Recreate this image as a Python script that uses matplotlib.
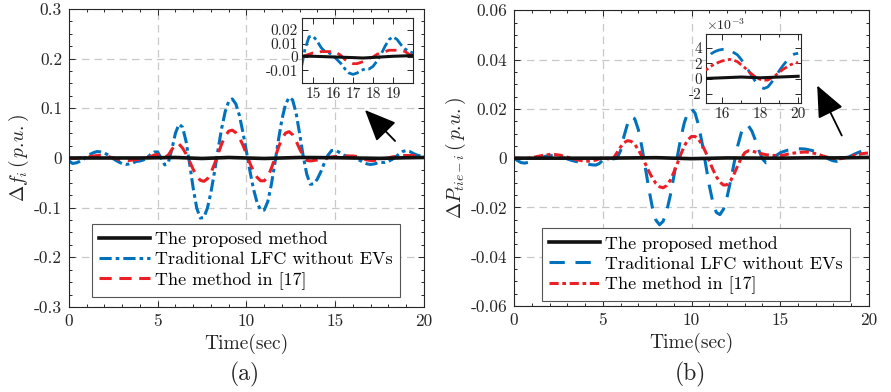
import numpy as np
import matplotlib
matplotlib.use("Agg")
import matplotlib.pyplot as plt
from matplotlib.ticker import MultipleLocator, FuncFormatter

plt.rcParams['font.family'] = ['cmr10', 'DejaVu Serif']
plt.rcParams['mathtext.fontset'] = 'cm'
plt.rcParams['axes.unicode_minus'] = False

# time axis of the sampled curves (sec)
t = np.round(np.arange(0, 20.01, 0.2), 1)

# (a) frequency deviation
df_trad = [
    -0.006, -0.011, -0.010, -0.007, -0.003, 0.0025, 0.0075, 0.011, 0.013, 0.012,
    0.010, 0.006, 0.001, -0.004, -0.008, -0.0115, -0.013, -0.012, -0.010, -0.007,
    -0.006, -0.004, 0.001, 0.007, 0.012, 0.012, -0.001, -0.014, -0.009, 0.018,
    0.050, 0.068, 0.062, 0.033, -0.012, -0.061, -0.101, -0.121, -0.120, -0.101,
    -0.069, -0.028, 0.017, 0.059, 0.093, 0.114, 0.119, 0.109, 0.086, 0.052,
    0.013, -0.027, -0.063, -0.090, -0.105, -0.105, -0.088, -0.054, -0.011, 0.036,
    0.078, 0.108, 0.122, 0.117, 0.090, 0.048, 0.003, -0.033, -0.053, -0.052,
    -0.042, -0.027, -0.009, 0.006, 0.015, 0.0155, 0.012, 0.007, 0.004, 0.003,
    0.001, -0.002, -0.005, -0.009, -0.012, -0.013, -0.012, -0.010, -0.009, -0.009,
    -0.007, -0.003, 0.002, 0.008, 0.013, 0.015, 0.013, 0.009, 0.006, 0.004,
    0.003,
]
df_ref17 = [
    0.0, -0.001, -0.001, 0.0, 0.001, 0.002, 0.003, 0.004, 0.005, 0.005,
    0.004, 0.003, 0.001, -0.001, -0.003, -0.004, -0.005, -0.005, -0.004, -0.003,
    -0.003, -0.002, 0.0, 0.003, 0.006, 0.007, 0.004, 0.001, 0.006, 0.017,
    0.028, 0.028, 0.020, 0.008, -0.007, -0.023, -0.036, -0.045, -0.047, -0.042,
    -0.030, -0.012, 0.008, 0.028, 0.044, 0.054, 0.056, 0.051, 0.041, 0.026,
    0.008, -0.011, -0.027, -0.039, -0.046, -0.046, -0.038, -0.021, -0.001, 0.021,
    0.039, 0.050, 0.053, 0.047, 0.034, 0.018, 0.004, -0.005, -0.006, -0.005,
    -0.004, -0.002, -0.001, 0.001, 0.002, 0.003, 0.003, 0.004, 0.004, 0.004,
    0.004, 0.003, 0.001, -0.002, -0.004, -0.005, -0.005, -0.004, -0.003, -0.001,
    0.0, 0.002, 0.003, 0.004, 0.005, 0.005, 0.005, 0.005, 0.004, 0.002,
    0.001,
]
t_prop_a = [0, 2, 4, 6, 7.5, 9, 11, 13, 15, 17, 17.5, 19, 20]
df_prop = [0, 0, 0, 0.001, -0.001, 0.001, -0.001, 0.001, 0.0005, -0.0005, -0.0008, 0.0005, 0.001]

# (b) tie-line power deviation
dp_trad = [
    0.0, -0.001, -0.0018, -0.002, -0.0017, -0.001, -0.0004, 0.0, 0.0004, 0.0008,
    0.001, 0.001, 0.0009, 0.0006, 0.0002, -0.0003, -0.0008, -0.0012, -0.0015, -0.0019,
    -0.0022, -0.0025, -0.0027, -0.0028, -0.0022, -0.0008, 0.0, 0.0003, -0.0003, 0.0,
    0.003, 0.009, 0.014, 0.0168, 0.016, 0.0117, 0.0047, -0.0039, -0.0126, -0.0202,
    -0.0252, -0.027, -0.0256, -0.0215, -0.0153, -0.0076, 0.0006, 0.0083, 0.0145, 0.0186,
    0.020, 0.0183, 0.0133, 0.006, -0.0026, -0.011, -0.0178, -0.022, -0.0229, -0.0207,
    -0.0159, -0.0093, -0.002, 0.0049, 0.0102, 0.0131, 0.0132, 0.011, 0.0073, 0.0031,
    -0.0003, -0.0019, -0.0015, -0.0002, 0.0012, 0.0022, 0.0027, 0.0032, 0.0035, 0.0037,
    0.0038, 0.0038, 0.0037, 0.0034, 0.0031, 0.0025, 0.0018, 0.0010, 0.0002, -0.0006,
    -0.0011, -0.0013, -0.0011, -0.0005, 0.0002, 0.0010, 0.0017, 0.0023, 0.0029, 0.0032,
    0.0033,
]
dp_ref17 = [
    0.0, 0.0, -0.0001, -0.0001, 0.0, 0.0002, 0.0005, 0.0008, 0.0011, 0.0013,
    0.0015, 0.0015, 0.0014, 0.0012, 0.0008, 0.0004, 0.0, -0.0004, -0.0007, -0.001,
    -0.0012, -0.0012, -0.0011, -0.0008, -0.0003, 0.0004, 0.0, -0.0006, 0.0, 0.0022,
    0.0045, 0.0063, 0.0071, 0.0068, 0.0056, 0.0035, 0.0008, -0.0023, -0.0054, -0.0081,
    -0.0103, -0.0116, -0.012, -0.0111, -0.009, -0.0058, -0.0022, 0.0016, 0.005, 0.0075,
    0.0088, 0.0088, 0.0076, 0.0054, 0.0024, -0.0011, -0.0045, -0.0075, -0.0097, -0.0109,
    -0.0108, -0.0092, -0.0064, -0.0031, 0.0, 0.0022, 0.003, 0.0029, 0.0025, 0.0021,
    0.0017, 0.0014, 0.0012, 0.0011, 0.0011, 0.0011, 0.0012, 0.0016, 0.0019, 0.0021,
    0.0023, 0.0024, 0.0025, 0.0024, 0.0022, 0.0018, 0.0014, 0.0009, 0.0005, 0.0001,
    -0.0001, -0.0002, -0.0002, 0.0001, 0.0004, 0.0008, 0.0012, 0.0015, 0.0018, 0.0020,
    0.0021,
]
t_prop_b = [0, 5, 8, 10, 12, 15, 17, 18, 20]
dp_prop = [0, 0, 0.0002, -0.0002, 0.0001, 0.0, 0.0002, 0.0001, 0.0003]

labels = ['The proposed method', 'Traditional LFC without EVs', 'The method in [17]']

BLUE = '#0072BD'
RED = '#EC1F27'
BLACK = '#111111'
TXT = '#262626'


def fmt(v, pos):
    return '%g' % round(v, 6)


def style_axes(ax, major_y, minor_y, fs=12.5):
    ax.tick_params(which='both', direction='in', top=True, right=True,
                   colors=TXT, labelsize=fs, width=0.7)
    ax.tick_params(which='major', length=4, pad=5)
    ax.tick_params(which='minor', length=2)
    ax.yaxis.set_major_locator(MultipleLocator(major_y))
    ax.yaxis.set_minor_locator(MultipleLocator(minor_y))
    ax.yaxis.set_major_formatter(FuncFormatter(fmt))
    for sp in ax.spines.values():
        sp.set_color(TXT)
        sp.set_linewidth(0.8)


def arrow(tail, head):
    fig.add_artist(matplotlib.patches.FancyArrowPatch(
        tail, head, transform=fig.transFigure,
        arrowstyle='-|>,head_length=1.15,head_width=0.5', mutation_scale=17,
        color='black', lw=1.3))


def add_legend(ax, anchor):
    leg = ax.legend(loc='lower left', bbox_to_anchor=anchor, borderaxespad=0,
                    fontsize=13, handlelength=2.8, handletextpad=0.3, borderpad=0.4,
                    labelspacing=0.25, fancybox=False, framealpha=1, edgecolor='#555555')
    leg.get_frame().set_linewidth(0.8)


fig = plt.figure(figsize=(8.91, 3.92), dpi=100)

# ---------------- (a) ----------------
ax1 = fig.add_axes([0.0774, 0.217, 0.3984, 0.760])
ax1.plot(t_prop_a, df_prop, color=BLACK, lw=2.6, label=labels[0], zorder=4)
ax1.plot(t, df_trad, color=BLUE, lw=2.2, dashes=(4, 1.3, 1.2, 1.3), label=labels[1], zorder=2)
ax1.plot(t, df_ref17, color=RED, lw=2.2, dashes=(4, 2.5), label=labels[2], zorder=3)
ax1.set_xlim(0, 20)
ax1.set_ylim(-0.3, 0.3)
ax1.xaxis.set_major_locator(MultipleLocator(5))
ax1.xaxis.set_minor_locator(MultipleLocator(1))
style_axes(ax1, 0.1, 0.025)
ax1.grid(True, which='major', color='#c8c8c8', ls=(0, (6, 4)), lw=0.9)
ax1.set_xlabel('Time(sec)', fontsize=14, color=TXT, labelpad=3)
ax1.set_ylabel(r'$\Delta f_i\,(\,p.\!u.)$', fontsize=14, color=TXT, labelpad=2)
add_legend(ax1, (0.065, 0.034))
fig.text(0.275, 0.03, '(a)', fontsize=17, ha='center', color=TXT)

ins1 = fig.add_axes([0.339, 0.788, 0.1246, 0.166])
ins1.plot(t_prop_a, df_prop, color=BLACK, lw=2.2, zorder=4)
ins1.plot(t, df_trad, color=BLUE, lw=2.0, dashes=(4, 1.3, 1.2, 1.3), zorder=2)
ins1.plot(t, df_ref17, color=RED, lw=2.0, dashes=(4, 2.5), zorder=3)
ins1.set_xlim(14.45, 20)
ins1.set_ylim(-0.0195, 0.029)
ins1.set_xticks([15, 16, 17, 18, 19])
style_axes(ins1, 0.01, 0.01, fs=11)
ins1.tick_params(which='major', pad=3)
ins1.xaxis.set_minor_locator(MultipleLocator(1))
ins1.set_facecolor('white')

arrow((0.4456, 0.6352), (0.4074, 0.7245))

# ---------------- (b) ----------------
ax2 = fig.add_axes([0.5769, 0.219, 0.3984, 0.755])
ax2.plot(t_prop_b, dp_prop, color=BLACK, lw=2.6, label=labels[0], zorder=4)
ax2.plot(t, dp_trad, color=BLUE, lw=2.2, dashes=(5, 3.5), label=labels[1], zorder=2)
ax2.plot(t, dp_ref17, color=RED, lw=2.2, dashes=(3, 1.2, 1.2, 1.2), label=labels[2], zorder=3)
ax2.set_xlim(0, 20)
ax2.set_ylim(-0.06, 0.06)
ax2.xaxis.set_major_locator(MultipleLocator(5))
ax2.xaxis.set_minor_locator(MultipleLocator(1))
style_axes(ax2, 0.02, 0.005)
ax2.grid(True, which='major', color='#c8c8c8', ls=(0, (6, 4)), lw=0.9)
ax2.set_xlabel('Time(sec)', fontsize=14, color=TXT, labelpad=3)
ax2.set_ylabel(r'$\Delta P_{tie-i}\,(\,p.\!u.)$', fontsize=14, color=TXT, labelpad=2)
add_legend(ax2, (0.079, 0.017))
fig.text(0.775, 0.03, '(b)', fontsize=17, ha='center', color=TXT)

ins2 = fig.add_axes([0.7924, 0.737, 0.1066, 0.176])
ins2.plot(t_prop_b, dp_prop, color=BLACK, lw=2.2, zorder=4)
ins2.plot(t, dp_trad, color=BLUE, lw=2.0, dashes=(5, 3.5), zorder=2)
ins2.plot(t, dp_ref17, color=RED, lw=2.0, dashes=(3, 1.2, 1.2, 1.2), zorder=3)
ins2.set_xlim(15.15, 20.15)
ins2.set_ylim(-0.0032, 0.0058)
ins2.set_xticks([16, 18, 20])
style_axes(ins2, 0.002, 0.002, fs=11)
ins2.tick_params(which='major', pad=3)
ins2.yaxis.set_major_formatter(FuncFormatter(lambda v, p: '%g' % round(v * 1e3, 3)))
ins2.xaxis.set_minor_locator(MultipleLocator(1))
ins2.set_facecolor('white')
ins2.text(0.0, 1.02, r'$\times 10^{-3}$', transform=ins2.transAxes, fontsize=10,
          color=TXT, va='bottom', ha='left')

arrow((0.9461, 0.648), (0.9158, 0.7883))

fig.savefig('out.png', dpi=100)
